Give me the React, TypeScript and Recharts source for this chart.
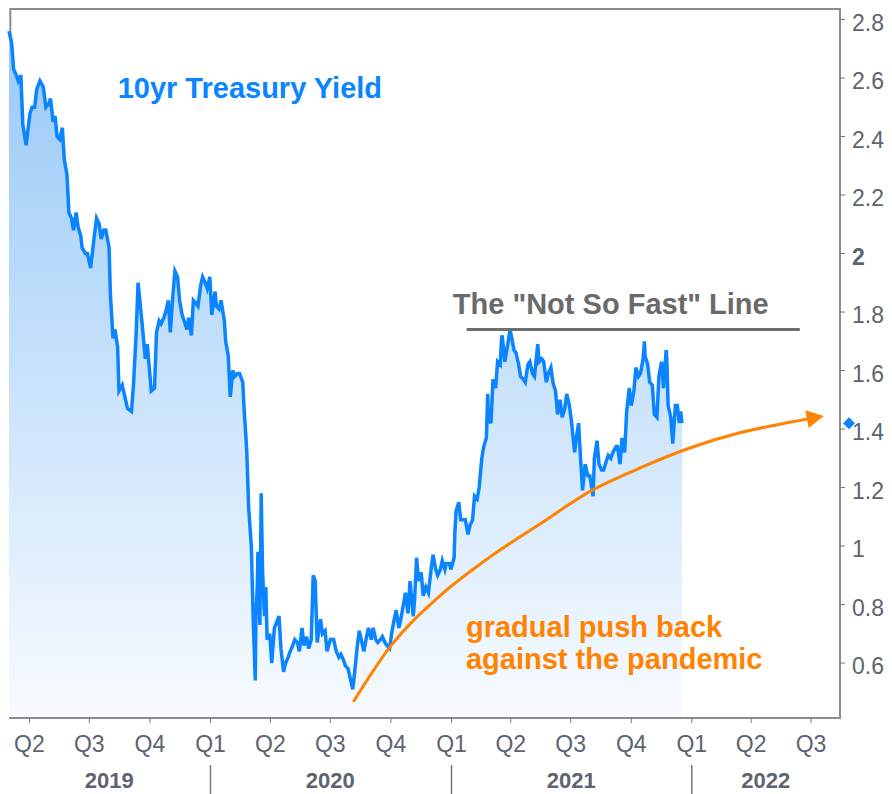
import {
  Area,
  ComposedChart,
  Line,
  ReferenceArea,
  ReferenceDot,
  ReferenceLine,
  XAxis,
  YAxis,
} from "recharts";

// 10yr yield (roughly twice a week)
const dates = [
  "2019-03-01", "2019-03-05", "2019-03-08", "2019-03-12", "2019-03-15", "2019-03-19", "2019-03-22", "2019-03-27", "2019-03-29",
  "2019-04-02", "2019-04-05", "2019-04-09", "2019-04-12", "2019-04-17", "2019-04-22", "2019-04-26", "2019-04-30",
  "2019-05-03", "2019-05-07", "2019-05-10", "2019-05-13", "2019-05-17", "2019-05-21", "2019-05-24", "2019-05-28", "2019-05-31",
  "2019-06-04", "2019-06-07", "2019-06-11", "2019-06-14", "2019-06-18", "2019-06-20", "2019-06-25", "2019-06-28",
  "2019-07-03", "2019-07-08", "2019-07-12", "2019-07-16", "2019-07-19", "2019-07-23", "2019-07-26", "2019-07-31",
  "2019-08-02", "2019-08-06", "2019-08-09", "2019-08-13", "2019-08-15", "2019-08-20", "2019-08-23", "2019-08-28",
  "2019-09-03", "2019-09-06", "2019-09-10", "2019-09-13", "2019-09-17", "2019-09-20", "2019-09-24", "2019-09-27",
  "2019-10-03", "2019-10-08", "2019-10-11", "2019-10-15", "2019-10-18", "2019-10-22", "2019-10-25", "2019-10-29",
  "2019-11-01", "2019-11-05", "2019-11-08", "2019-11-12", "2019-11-15", "2019-11-19", "2019-11-22", "2019-11-26", "2019-11-29",
  "2019-12-03", "2019-12-06", "2019-12-10", "2019-12-13", "2019-12-17", "2019-12-20", "2019-12-24", "2019-12-27", "2019-12-31",
  "2020-01-03", "2020-01-08", "2020-01-10", "2020-01-14", "2020-01-17", "2020-01-22", "2020-01-24", "2020-01-28", "2020-01-31",
  "2020-02-04", "2020-02-07", "2020-02-11", "2020-02-14", "2020-02-19", "2020-02-21", "2020-02-25", "2020-02-28",
  "2020-03-03", "2020-03-06", "2020-03-09", "2020-03-10", "2020-03-12", "2020-03-13", "2020-03-16", "2020-03-18", "2020-03-20",
  "2020-03-23", "2020-03-25", "2020-03-27", "2020-03-31",
  "2020-04-03", "2020-04-07", "2020-04-09", "2020-04-14", "2020-04-17", "2020-04-21", "2020-04-24", "2020-04-28",
  "2020-05-01", "2020-05-05", "2020-05-08", "2020-05-12", "2020-05-15", "2020-05-19", "2020-05-22", "2020-05-26", "2020-05-29",
  "2020-06-02", "2020-06-05", "2020-06-08", "2020-06-11", "2020-06-16", "2020-06-19", "2020-06-23", "2020-06-26",
  "2020-07-01", "2020-07-06", "2020-07-10", "2020-07-14", "2020-07-17", "2020-07-21", "2020-07-24", "2020-07-28", "2020-07-31",
  "2020-08-04", "2020-08-07", "2020-08-11", "2020-08-14", "2020-08-18", "2020-08-21", "2020-08-25", "2020-08-28",
  "2020-09-01", "2020-09-04", "2020-09-08", "2020-09-11", "2020-09-15", "2020-09-18", "2020-09-22", "2020-09-25", "2020-09-29",
  "2020-10-02", "2020-10-06", "2020-10-09", "2020-10-13", "2020-10-16", "2020-10-20", "2020-10-23", "2020-10-27", "2020-10-30",
  "2020-11-04", "2020-11-06", "2020-11-09", "2020-11-12", "2020-11-16", "2020-11-19", "2020-11-23", "2020-11-27",
  "2020-12-01", "2020-12-04", "2020-12-08", "2020-12-11", "2020-12-15", "2020-12-18", "2020-12-22", "2020-12-24", "2020-12-29", "2020-12-31",
  "2021-01-05", "2021-01-06", "2021-01-08", "2021-01-12", "2021-01-15", "2021-01-19", "2021-01-22", "2021-01-26", "2021-01-29",
  "2021-02-02", "2021-02-05", "2021-02-09", "2021-02-12", "2021-02-16", "2021-02-19", "2021-02-23", "2021-02-25", "2021-02-26",
  "2021-03-02", "2021-03-05", "2021-03-09", "2021-03-12", "2021-03-16", "2021-03-18", "2021-03-19", "2021-03-23", "2021-03-26", "2021-03-31",
  "2021-04-06", "2021-04-09", "2021-04-13", "2021-04-16", "2021-04-20", "2021-04-23", "2021-04-27", "2021-04-30",
  "2021-05-04", "2021-05-07", "2021-05-12", "2021-05-14", "2021-05-18", "2021-05-21", "2021-05-25", "2021-05-28",
  "2021-06-01", "2021-06-04", "2021-06-08", "2021-06-11", "2021-06-15", "2021-06-18", "2021-06-22", "2021-06-25", "2021-06-29",
  "2021-07-02", "2021-07-07", "2021-07-09", "2021-07-13", "2021-07-16", "2021-07-19", "2021-07-23", "2021-07-27", "2021-07-30",
  "2021-08-04", "2021-08-06", "2021-08-10", "2021-08-13", "2021-08-17", "2021-08-20", "2021-08-24", "2021-08-27", "2021-08-31",
  "2021-09-03", "2021-09-08", "2021-09-10", "2021-09-14", "2021-09-17", "2021-09-21", "2021-09-24", "2021-09-28",
  "2021-10-01", "2021-10-05", "2021-10-08", "2021-10-12", "2021-10-15", "2021-10-19", "2021-10-21", "2021-10-22", "2021-10-26", "2021-10-29",
  "2021-11-02", "2021-11-05", "2021-11-09", "2021-11-12", "2021-11-16", "2021-11-19", "2021-11-23", "2021-11-24", "2021-11-26", "2021-11-30",
  "2021-12-03", "2021-12-07", "2021-12-10", "2021-12-13", "2021-12-15", "2021-12-17",
];

const yields = [
  2.76, 2.72, 2.63, 2.61, 2.59, 2.61, 2.44, 2.37, 2.41,
  2.48, 2.5, 2.5, 2.56, 2.59, 2.57, 2.5, 2.51,
  2.53, 2.45, 2.47, 2.4, 2.39, 2.43, 2.32, 2.27, 2.14,
  2.12, 2.08, 2.14, 2.09, 2.06, 2.02, 2.0, 2.0,
  1.95, 2.05, 2.12, 2.1, 2.05, 2.08, 2.08, 2.02,
  1.86, 1.71, 1.74, 1.68, 1.53, 1.55, 1.52, 1.47,
  1.46, 1.55, 1.72, 1.9, 1.81, 1.74, 1.64, 1.69,
  1.53, 1.54, 1.73, 1.77, 1.76, 1.78, 1.8, 1.84,
  1.73, 1.86, 1.94, 1.92, 1.84, 1.79, 1.77, 1.74, 1.78,
  1.72, 1.84, 1.83, 1.82, 1.89, 1.92, 1.9, 1.88, 1.92,
  1.79, 1.87, 1.82, 1.81, 1.84, 1.77, 1.7, 1.65, 1.51,
  1.6, 1.58, 1.59, 1.59, 1.56, 1.47, 1.33, 1.13,
  1.0, 0.74, 0.54, 0.76, 0.86, 0.98, 0.73, 1.18, 0.92,
  0.76, 0.86, 0.68, 0.7,
  0.6, 0.72, 0.73, 0.76, 0.65, 0.57, 0.6, 0.62,
  0.64, 0.66, 0.68, 0.67, 0.64, 0.72, 0.66, 0.69, 0.65,
  0.68, 0.9, 0.88, 0.67, 0.75, 0.7, 0.71, 0.64,
  0.68, 0.68, 0.64, 0.62, 0.63, 0.61, 0.59, 0.58, 0.55,
  0.51, 0.57, 0.66, 0.71, 0.67, 0.64, 0.69, 0.72,
  0.68, 0.72, 0.68, 0.67, 0.68, 0.69, 0.67, 0.66, 0.65,
  0.7, 0.75, 0.78, 0.72, 0.75, 0.8, 0.84, 0.77, 0.88,
  0.76, 0.82, 0.96, 0.88, 0.91, 0.83, 0.86, 0.84,
  0.92, 0.97, 0.92, 0.9, 0.92, 0.95, 0.92, 0.94, 0.94, 0.92,
  0.96, 1.04, 1.12, 1.15, 1.09, 1.09, 1.09, 1.04, 1.07,
  1.09, 1.17, 1.16, 1.2, 1.3, 1.34, 1.37, 1.52, 1.44,
  1.42, 1.57, 1.54, 1.63, 1.62, 1.71, 1.72, 1.63, 1.67, 1.74,
  1.67, 1.66, 1.62, 1.58, 1.57, 1.56, 1.62, 1.63,
  1.59, 1.58, 1.69, 1.63, 1.64, 1.63, 1.56, 1.59,
  1.61, 1.56, 1.53, 1.45, 1.5, 1.44, 1.47, 1.52, 1.48,
  1.43, 1.32, 1.36, 1.42, 1.3, 1.19, 1.28, 1.24, 1.24,
  1.17, 1.3, 1.36, 1.28, 1.26, 1.26, 1.29, 1.31, 1.3,
  1.32, 1.34, 1.34, 1.28, 1.37, 1.32, 1.46, 1.54,
  1.48, 1.53, 1.61, 1.58, 1.59, 1.64, 1.7, 1.65, 1.62, 1.56,
  1.55, 1.45, 1.44, 1.58, 1.63, 1.54, 1.67, 1.64, 1.48, 1.44,
  1.35, 1.48, 1.48, 1.42, 1.46, 1.42,
];

// orange "gradual push back" curve
const trendDates = [
  "2020-08-06", "2020-10-01", "2020-12-15", "2021-03-01", "2021-05-16",
  "2021-07-31", "2021-10-15", "2021-12-29", "2022-03-15", "2022-05-30", "2022-06-25",
];
const trendValues = [0.467, 0.656, 0.829, 0.962, 1.075, 1.187, 1.267, 1.335, 1.387, 1.423, 1.434];

const quarterTicks = [
  "2019-04-01", "2019-07-01", "2019-10-01", "2020-01-01", "2020-04-01",
  "2020-07-01", "2020-10-01", "2021-01-01", "2021-04-01", "2021-07-01",
  "2021-10-01", "2022-01-01", "2022-04-01", "2022-07-01",
];
const years = [2019, 2020, 2021, 2022];
const yTicks = [0.6, 0.8, 1, 1.2, 1.4, 1.6, 1.8, 2, 2.2, 2.4, 2.6, 2.8];

const notSoFast = { from: "2021-01-24", to: "2022-06-14", level: 1.74 };

const ts = (d: string) => Date.parse(d + "T00:00:00Z");

const X_MIN = ts("2019-03-03");
const X_MAX = ts("2022-08-14");
const Y_MIN = 0.412;
const Y_MAX = 2.836;

const data = dates.map((d, i) => ({ t: ts(d), v: yields[i] }));
const trend = trendDates.map((d, i) => ({ t: ts(d), v: trendValues[i] }));

const yearTicks = years.map((y) => {
  const a = Math.max(X_MIN, Date.UTC(y, 0, 1));
  const b = Math.min(X_MAX, Date.UTC(y + 1, 0, 1));
  return (a + b) / 2;
});

const BLUE = "#0a84ff";
const ORANGE = "#ff8300";
const GRAY_TEXT = "#6a6a6a";
const AXIS = "#5c6470";
const FRAME = "#8c8c8c";
const FONT = "Liberation Sans, Arial, sans-serif";

const QuarterTick = (props: any) => {
  const { x, y, payload } = props;
  const month = new Date(payload.value).getUTCMonth();
  const q = Math.floor(month / 3) + 1;
  return (
    <g>
      <text x={x} y={y + 29} textAnchor="middle" fill={AXIS} fontSize={23} fontFamily={FONT}>
        {"Q" + q}
      </text>
      {q === 1 && <line x1={x} x2={x} y1={y + 42} y2={y + 71} stroke="#777" strokeWidth={1.5} />}
    </g>
  );
};

const YearTick = (props: any) => {
  const { x, y, index } = props;
  return (
    <text x={x} y={y + 30} textAnchor="middle" fill={AXIS} fontSize={22} fontWeight={700} fontFamily={FONT}>
      {years[index]}
    </text>
  );
};

const ValueTick = (props: any) => {
  const { x, y, payload } = props;
  const v = payload.value;
  return (
    <text x={x} y={y + 11} fill={AXIS} fontSize={23} fontFamily={FONT} fontWeight={v === 2 ? 700 : 400}>
      {String(Math.round(v * 10) / 10)}
    </text>
  );
};

const textAt = (lines: string[], color: string) => (p: any) => (
  <text x={p.cx} y={p.cy} fill={color} fontSize={29} fontWeight={700} fontFamily={FONT}>
    {lines.map((l, i) => (
      <tspan key={i} x={p.cx} dy={i === 0 ? 0 : 32}>
        {l}
      </tspan>
    ))}
  </text>
);

const Diamond = (p: any) => {
  const cx = p.cx + 9;
  const cy = p.cy;
  return <polygon points={`${cx},${cy - 6} ${cx + 6},${cy} ${cx},${cy + 6} ${cx - 6},${cy}`} fill={BLUE} />;
};

// arrowhead on the last point of the trend, pointing along the last segment
const seen: { cx: number; cy: number }[] = [];
const ArrowDot = (p: any) => {
  seen[p.index] = { cx: p.cx, cy: p.cy };
  if (p.index !== trend.length - 1 || !seen[p.index - 1]) return <g key={p.index} />;
  const prev = seen[p.index - 1];
  const a = Math.atan2(p.cy - prev.cy, p.cx - prev.cx);
  const len = 17;
  const half = 9;
  const tip = [p.cx + len * Math.cos(a), p.cy + len * Math.sin(a)];
  const l = [p.cx - half * Math.sin(a), p.cy + half * Math.cos(a)];
  const r = [p.cx + half * Math.sin(a), p.cy - half * Math.cos(a)];
  return <polygon key={p.index} points={`${tip.join(",")} ${l.join(",")} ${r.join(",")}`} fill={ORANGE} />;
};

export default function App() {
  return (
    <div style={{ position: "absolute", left: 0, top: 0, width: 892, height: 794, background: "#fff" }}>
      <ComposedChart width={892} height={794} data={data} margin={{ top: 9, right: 0, bottom: 0, left: 9 }}>
        <defs>
          <linearGradient id="yieldFill" x1="0" y1="0" x2="0" y2="1">
            <stop offset="0%" stopColor="#98c9f7" />
            <stop offset="100%" stopColor="#f8fbff" />
          </linearGradient>
        </defs>
        <XAxis
          dataKey="t"
          type="number"
          domain={[X_MIN, X_MAX]}
          ticks={quarterTicks.map(ts)}
          height={40}
          tickSize={5}
          tickMargin={0}
          tick={<QuarterTick />}
          axisLine={{ stroke: FRAME, strokeWidth: 2 }}
          tickLine={{ stroke: "#777" }}
          interval={0}
        />
        <XAxis
          xAxisId="year"
          dataKey="t"
          type="number"
          domain={[X_MIN, X_MAX]}
          ticks={yearTicks}
          height={36}
          tickSize={0}
          tickMargin={0}
          tick={<YearTick />}
          axisLine={false}
          tickLine={false}
          interval={0}
        />
        <YAxis
          orientation="right"
          type="number"
          domain={[Y_MIN, Y_MAX]}
          ticks={yTicks}
          width={52}
          tickSize={5}
          tickMargin={7}
          tick={<ValueTick />}
          axisLine={{ stroke: FRAME, strokeWidth: 2 }}
          tickLine={{ stroke: "#777" }}
          interval={0}
        />
        <ReferenceArea x1={X_MIN} x2={X_MAX} y1={Y_MIN} y2={Y_MAX} fill="none" stroke={FRAME} strokeWidth={2} />
        <Area
          dataKey="v"
          type="linear"
          stroke={BLUE}
          strokeWidth={3.5}
          strokeLinejoin="miter"
          fill="url(#yieldFill)"
          fillOpacity={1}
          isAnimationActive={false}
          dot={false}
          activeDot={false}
        />
        <ReferenceLine
          segment={[
            { x: ts(notSoFast.from), y: notSoFast.level },
            { x: ts(notSoFast.to), y: notSoFast.level },
          ]}
          stroke="#6e6e6e"
          strokeWidth={3}
        />
        <Line
          xAxisId="year"
          data={trend}
          dataKey="v"
          type="monotone"
          stroke={ORANGE}
          strokeWidth={3}
          dot={ArrowDot}
          activeDot={false}
          isAnimationActive={false}
        />
        <ReferenceDot x={X_MAX} y={yields[yields.length - 1]} r={6} shape={Diamond} ifOverflow="visible" />
        <ReferenceDot x={ts("2019-08-13")} y={2.531} shape={textAt(["10yr Treasury Yield"], BLUE)} ifOverflow="visible" />
        <ReferenceDot x={ts("2021-01-03")} y={1.792} shape={textAt(['The "Not So Fast" Line'], GRAY_TEXT)} ifOverflow="visible" />
        <ReferenceDot
          x={ts("2021-01-23")}
          y={0.689}
          shape={textAt(["gradual push back", "against the pandemic"], ORANGE)}
          ifOverflow="visible"
        />
      </ComposedChart>
    </div>
  );
}
